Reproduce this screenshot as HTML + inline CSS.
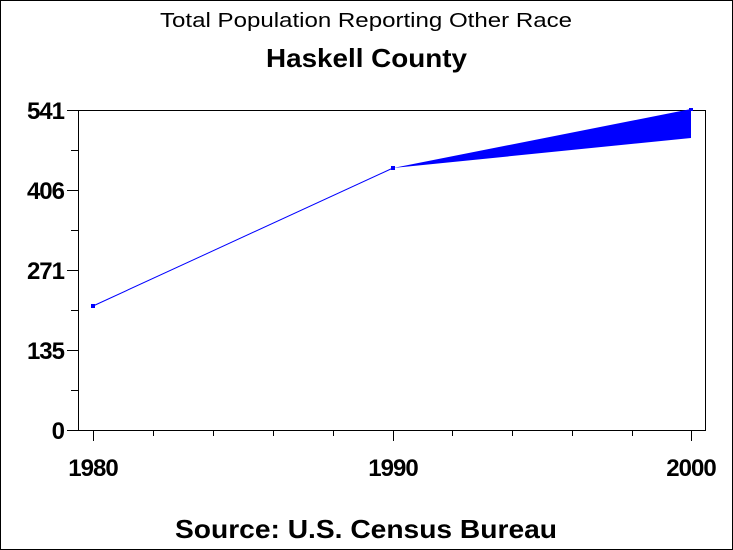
<!DOCTYPE html>
<html><head><style>body{margin:0;background:#fff}svg{display:block}</style></head><body>
<svg width="733" height="550" xmlns="http://www.w3.org/2000/svg" font-family="Liberation Sans, Arial, sans-serif">
<rect x="0.5" y="0.5" width="732" height="549" fill="#fff" stroke="#000"/>
<text x="160" y="27" font-size="20" textLength="412" lengthAdjust="spacingAndGlyphs">Total Population Reporting Other Race</text>
<text x="266" y="67" font-size="26" font-weight="bold" textLength="201" lengthAdjust="spacingAndGlyphs">Haskell County</text>
<rect x="78.5" y="110.5" width="627" height="320" fill="none" stroke="#000"/>
<g stroke="#000">
<line x1="67" y1="110.5" x2="78" y2="110.5"/><line x1="71" y1="150.5" x2="78" y2="150.5"/>
<line x1="67" y1="190.5" x2="78" y2="190.5"/><line x1="71" y1="230.5" x2="78" y2="230.5"/>
<line x1="67" y1="270.5" x2="78" y2="270.5"/><line x1="71" y1="310.5" x2="78" y2="310.5"/>
<line x1="67" y1="350.5" x2="78" y2="350.5"/><line x1="71" y1="390.5" x2="78" y2="390.5"/>
<line x1="67" y1="430.5" x2="78" y2="430.5"/>
<line x1="93.5" y1="430" x2="93.5" y2="441"/><line x1="153.5" y1="430" x2="153.5" y2="436"/>
<line x1="213.5" y1="430" x2="213.5" y2="436"/><line x1="273.5" y1="430" x2="273.5" y2="436"/>
<line x1="333.5" y1="430" x2="333.5" y2="436"/><line x1="393.5" y1="430" x2="393.5" y2="441"/>
<line x1="452.5" y1="430" x2="452.5" y2="436"/><line x1="512.5" y1="430" x2="512.5" y2="436"/>
<line x1="572.5" y1="430" x2="572.5" y2="436"/><line x1="632.5" y1="430" x2="632.5" y2="436"/>
<line x1="691.5" y1="430" x2="691.5" y2="441"/>
</g>
<g font-size="24" font-weight="bold" text-anchor="end" letter-spacing="-1">
<text x="64" y="119">541</text><text x="64" y="199">406</text><text x="64" y="279">271</text>
<text x="64" y="359">135</text><text x="64" y="439">0</text>
</g>
<g font-size="24" font-weight="bold" text-anchor="middle" letter-spacing="-1">
<text x="93" y="476">1980</text><text x="393" y="476">1990</text><text x="691" y="476">2000</text>
</g>
<polyline points="93,306 393,168" fill="none" stroke="#00f" stroke-width="1"/>
<polygon points="393,168 691,109 691,138" fill="#00f"/>
<rect x="91" y="304" width="4" height="4" fill="#00f"/>
<rect x="391" y="166" width="4" height="4" fill="#00f"/>
<rect x="689" y="108" width="4" height="3" fill="#00f"/>
<text x="175" y="538" font-size="26" font-weight="bold" textLength="382" lengthAdjust="spacingAndGlyphs">Source: U.S. Census Bureau</text>
</svg>
</body></html>
